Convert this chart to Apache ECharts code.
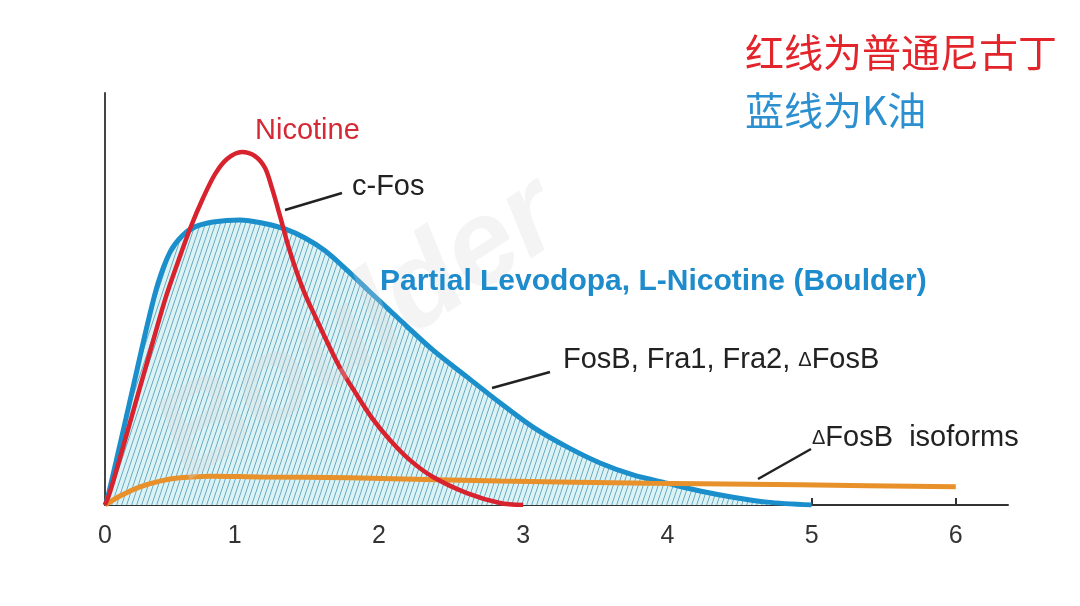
<!DOCTYPE html>
<html>
<head>
<meta charset="utf-8">
<script src="https://cdn.jsdelivr.net/npm/echarts@6/dist/echarts.min.js"></script>
<style>
html,body{margin:0;padding:0;background:#fff;}
#c{width:1080px;height:606px;}
</style>
</head>
<body>
<div id="c"></div>
<script>
// ---- data ----
const tickValues = [0.1, 1, 2, 3, 4, 5, 6];
const tickLabels = ['0', '1', '2', '3', '4', '5', '6'];

const nicotineX = [0.1, 0.135, 0.204, 0.308, 0.412, 0.516, 0.606, 0.689, 0.78, 0.863, 0.946, 1.05, 1.14, 1.21, 1.258, 1.314, 1.369, 1.425, 1.487, 1.556, 1.64, 1.73, 1.834, 1.952, 2.076, 2.215, 2.375, 2.61, 2.839, 3.0];
const nicotineY = [0, 3.2, 11.4, 24.3, 37.1, 49.8, 59.0, 67.0, 74.5, 80.3, 84.0, 85.7, 84.7, 81.8, 76.9, 70.1, 63.1, 57.0, 51.2, 45.9, 39.6, 33.3, 27.4, 21.1, 15.8, 10.9, 6.8, 2.9, 0.5, 0];

const boulderX = [0.1, 0.114, 0.176, 0.246, 0.322, 0.398, 0.468, 0.551, 0.634, 0.724, 0.849, 1.036, 1.196, 1.348, 1.487, 1.626, 1.778, 1.938, 2.146, 2.375, 2.61, 2.839, 3.068, 3.304, 3.533, 3.762, 3.997, 4.226, 4.455, 4.691, 5.0];
const boulderY = [0, 1.2, 10.4, 21.1, 32.8, 44.4, 53.9, 61.4, 65.3, 67.5, 68.7, 69.2, 68.4, 67.0, 64.8, 61.7, 57.0, 51.7, 44.9, 37.6, 31.1, 24.8, 18.9, 14.1, 10.2, 7.3, 5.3, 3.4, 1.9, 0.7, 0];

const isoformX = [0.1, 0.204, 0.343, 0.481, 0.62, 0.828, 1.175, 1.799, 2.839, 3.879, 4.92, 6.0];
const isoformY = [0, 2.2, 4.4, 5.8, 6.6, 7.0, 6.8, 6.6, 5.8, 5.3, 4.9, 4.4];

const zip = (xs, ys) => xs.map((x, i) => [x, ys[i]]);

// hatch pattern for the area
const pat = document.createElement('canvas');
pat.width = 5; pat.height = 15;
const pc = pat.getContext('2d');
pc.fillStyle = '#dbf3f5';
pc.fillRect(0, 0, 5, 15);
pc.strokeStyle = '#6aaac2';
pc.lineWidth = 1;
for (const k of [-1, 0, 1]) {
  pc.beginPath();
  pc.moveTo(k * 5, 15);
  pc.lineTo(k * 5 + 5, 0);
  pc.stroke();
}

const chart = echarts.init(document.getElementById('c'));
const EN = 'Liberation Sans, Arial, sans-serif';
const CJK = '"Noto Sans CJK SC", sans-serif';

chart.setOption({
  animation: false,
  grid: { left: 105, right: 72, top: 93, bottom: 101, containLabel: false, outerBoundsMode: 'none' },
  xAxis: {
    type: 'value', min: 0.1, max: 6.362,
    axisLine: { show: true, lineStyle: { color: '#333', width: 2 } },
    axisTick: { show: true, inside: true, length: 7, customValues: tickValues.slice(1), lineStyle: { color: '#333', width: 2 } },
    axisLabel: {
      show: true, customValues: tickValues, margin: 19,
      formatter: (v) => tickLabels[tickValues.indexOf(v)],
      color: '#333', fontSize: 25, fontFamily: EN
    },
    splitLine: { show: false }
  },
  yAxis: {
    type: 'value', min: 0, max: 100,
    axisLine: { show: true, lineStyle: { color: '#444', width: 2 } },
    axisTick: { show: false }, axisLabel: { show: false }, splitLine: { show: false }
  },
  series: [
    {
      name: 'Partial Levodopa, L-Nicotine (Boulder)', type: 'line', data: zip(boulderX, boulderY),
      showSymbol: false, smooth: 0.3, z: 2,
      lineStyle: { color: '#1a8fcc', width: 5 },
      areaStyle: { color: { image: pat, repeat: 'repeat' }, opacity: 1 }
    },
    {
      name: 'ΔFosB isoforms', type: 'line', data: zip(isoformX, isoformY),
      showSymbol: false, smooth: 0.3, z: 3,
      lineStyle: { color: '#e8912b', width: 5 }
    },
    {
      name: 'Nicotine', type: 'line', data: zip(nicotineX, nicotineY),
      showSymbol: false, smooth: 0.3, z: 4,
      lineStyle: { color: '#d8232f', width: 4.5 }
    }
  ],
  graphic: [
    { type: 'text', x: 360, y: 330, rotation: 33 * Math.PI / 180, z: 50, silent: true,
      style: { text: 'Boulder', font: 'italic bold 120px ' + EN, fill: 'rgba(215,215,215,0.28)', textAlign: 'center', textVerticalAlign: 'middle' } },
    { type: 'text', z: 110, x: 745, y: 52, style: { text: '红线为普通尼古丁', font: '39px ' + CJK, fill: '#e3242b', textVerticalAlign: 'middle' } },
    { type: 'text', z: 110, x: 745, y: 110, style: { text: '蓝线为K油', font: '39px ' + CJK, fill: '#2b8fd0', textVerticalAlign: 'middle' } },
    { type: 'text', z: 110, x: 255, y: 131, style: { text: 'Nicotine', font: '29px ' + EN, fill: '#d42a36', textVerticalAlign: 'middle' } },
    { type: 'text', z: 110, x: 352, y: 187, style: { text: 'c-Fos', font: '29px ' + EN, fill: '#222', textVerticalAlign: 'middle' } },
    { type: 'text', z: 110, x: 380, y: 282, style: { text: 'Partial Levodopa, L-Nicotine (Boulder)', font: 'bold 30px ' + EN, fill: '#1e8ccc', textVerticalAlign: 'middle' } },
    { type: 'text', z: 110, x: 563, y: 360, style: { text: 'FosB, Fra1, Fra2, {d|Δ}FosB', font: '29px ' + EN, fill: '#222', textVerticalAlign: 'middle',
        rich: { d: { font: '20px ' + EN, fill: '#222' } } } },
    { type: 'text', z: 110, x: 812, y: 438, style: { text: '{d|Δ}FosB  isoforms', font: '29px ' + EN, fill: '#222', textVerticalAlign: 'middle',
        rich: { d: { font: '20px ' + EN, fill: '#222' } } } },
    { type: 'line', z: 110, shape: { x1: 285, y1: 210, x2: 342, y2: 193 }, style: { stroke: '#222', lineWidth: 2.5 } },
    { type: 'line', z: 110, shape: { x1: 492, y1: 388, x2: 550, y2: 372 }, style: { stroke: '#222', lineWidth: 2.5 } },
    { type: 'line', z: 110, shape: { x1: 758, y1: 479, x2: 811, y2: 449 }, style: { stroke: '#222', lineWidth: 2.5 } }
  ]
});
</script>
</body>
</html>
